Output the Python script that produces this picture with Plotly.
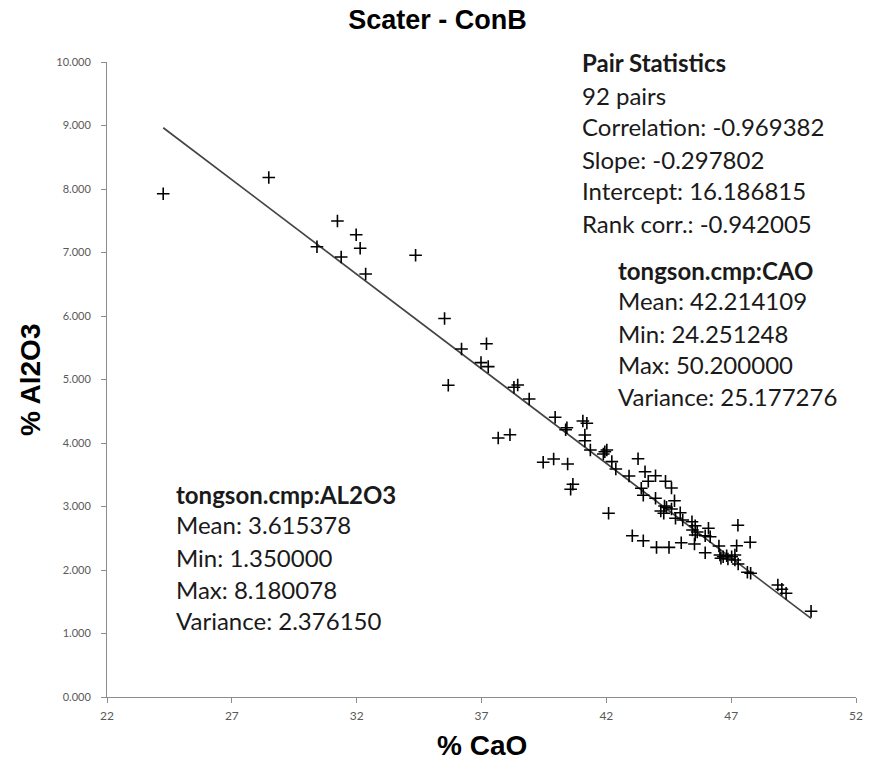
import plotly.graph_objects as go

# CaO / Al2O3 pairs (wt %)
cao = [
    24.251248, 28.48, 31.23, 31.98, 30.41, 32.14, 31.38, 34.36, 32.36, 35.52,
    36.20, 37.20, 36.98, 37.27, 35.67, 38.30, 38.45, 38.91, 39.95, 40.42,
    40.37, 37.67, 38.14, 39.47, 39.89, 40.45, 40.66, 40.57, 41.06, 41.22,
    41.14, 41.14, 41.36, 41.94, 42.02, 41.88, 42.22, 42.38, 42.91, 42.09,
    43.04, 43.27, 43.55, 43.97, 43.68, 43.40, 43.48, 44.37, 44.61, 43.97,
    44.33, 44.73, 44.41, 44.18, 44.30, 44.61, 44.96, 44.77, 45.06, 45.43,
    45.56, 45.45, 45.56, 45.96, 46.09, 46.16, 43.48, 44.01, 44.51, 45.00,
    45.53, 45.96, 46.51, 47.27, 47.22, 47.76, 46.55, 46.68, 46.59, 46.82,
    47.02, 47.15, 47.15, 47.28, 47.65, 47.78, 48.87, 49.03, 49.20, 50.200000,
    45.64, 46.87,
]
al2o3 = [
    7.926, 8.180078, 7.496, 7.280, 7.091, 7.066, 6.929, 6.956, 6.661, 5.961,
    5.480, 5.564, 5.265, 5.202, 4.909, 4.877, 4.913, 4.693, 4.405, 4.241,
    4.209, 4.079, 4.131, 3.696, 3.748, 3.669, 3.350, 3.271, 4.346, 4.310,
    4.126, 4.036, 3.890, 3.863, 3.890, 3.827, 3.706, 3.591, 3.480, 2.893,
    2.540, 3.753, 3.548, 3.485, 3.397, 3.287, 3.176, 3.397, 3.291, 3.129,
    3.008, 3.091, 2.987, 2.929, 2.893, 2.961, 2.902, 2.814, 2.787, 2.761,
    2.698, 2.630, 2.551, 2.540, 2.657, 2.524, 2.461, 2.357, 2.357, 2.430,
    2.409, 2.272, 2.378, 2.704, 2.383, 2.436, 2.236, 2.209, 2.184, 2.225,
    2.209, 2.236, 2.157, 2.094, 1.964, 1.948, 1.764, 1.696, 1.633, 1.350000,
    2.598, 2.173,
]

# Regression fit reported in the statistics panel
slope = -0.297802
intercept = 16.186815
fit_x = [min(cao), max(cao)]
fit_y = [intercept + slope * v for v in fit_x]

pair_lines = [
    ("<b>Pair Statistics</b>", 1.0),
    ("92 pairs", 0.948),
    ("Correlation: -0.969382", 0.898),
    ("Slope: -0.297802", 0.847),
    ("Intercept: 16.186815", 0.797),
    ("Rank corr.: -0.942005", 0.746),
]
cao_lines = [
    ("<b>tongson.cmp:CAO</b>", 0.672),
    ("Mean: 42.214109", 0.624),
    ("Min: 24.251248", 0.573),
    ("Max: 50.200000", 0.523),
    ("Variance: 25.177276", 0.474),
]
al_lines = [
    ("<b>tongson.cmp:AL2O3</b>", 0.319),
    ("Mean: 3.615378", 0.271),
    ("Min: 1.350000", 0.220),
    ("Max: 8.180078", 0.170),
    ("Variance: 2.376150", 0.121),
]

TXT_FONT = dict(family="Lato, 'Open Sans', sans-serif", size=24, color="#1a1a1a")
HEAD_FONT = dict(family="Liberation Sans, Arial, sans-serif", size=27, color="black")
AXIS_TITLE_FONT = dict(HEAD_FONT, size=28)

fig = go.Figure()
fig.add_trace(go.Scatter(
    x=fit_x, y=fit_y, mode="lines",
    line=dict(color="#444444", width=1.7),
    hoverinfo="skip", showlegend=False,
))
fig.add_trace(go.Scatter(
    x=cao, y=al2o3, mode="markers",
    marker=dict(symbol="cross-thin", size=9, line=dict(color="black", width=1.6)),
    showlegend=False,
))

annotations = []
for lines, x0 in ((pair_lines, 0.631), (cao_lines, 0.679), (al_lines, 0.090)):
    for text, yp in lines:
        annotations.append(dict(
            text=text, x=x0, y=yp, xref="paper", yref="paper",
            xanchor="left", yanchor="middle", showarrow=False, font=TXT_FONT,
        ))

# Axis titles
annotations.append(dict(
    text="<b>% CaO</b>", x=0.5, y=-0.0756, xref="paper", yref="paper",
    xanchor="center", yanchor="middle", showarrow=False, font=AXIS_TITLE_FONT,
))
annotations.append(dict(
    text="<b>% Al2O3</b>", x=-0.102, y=0.5, xref="paper", yref="paper",
    xanchor="center", yanchor="middle", showarrow=False, textangle=-90,
    font=AXIS_TITLE_FONT,
))

axis_font = dict(family="Lato, 'Open Sans', sans-serif", size=11, color="#595959")

fig.update_layout(
    width=875, height=765,
    margin=dict(l=107, r=13, t=62, b=68),
    paper_bgcolor="white", plot_bgcolor="white",
    title=dict(
        text="<b>Scater - ConB</b>",
        x=0.5, xref="container", xanchor="center",
        y=1 - 20 / 765, yref="container", yanchor="middle",
        font=HEAD_FONT,
    ),
    xaxis=dict(
        range=[22, 52], tick0=22, dtick=5, showgrid=False, zeroline=False,
        showline=True, linecolor="#8c8c8c", linewidth=1,
        ticks="outside", ticklen=5, tickcolor="#8c8c8c",
        tickfont=dict(axis_font, size=12), ticklabelstandoff=3,
    ),
    yaxis=dict(
        range=[0, 10], dtick=1, tickformat=".3f", showgrid=False, zeroline=False,
        showline=True, linecolor="#8c8c8c", linewidth=1,
        ticks="outside", ticklen=5, tickcolor="#8c8c8c",
        tickfont=axis_font, ticklabelstandoff=8,
    ),
    annotations=annotations,
)

fig.write_html("out.html")
